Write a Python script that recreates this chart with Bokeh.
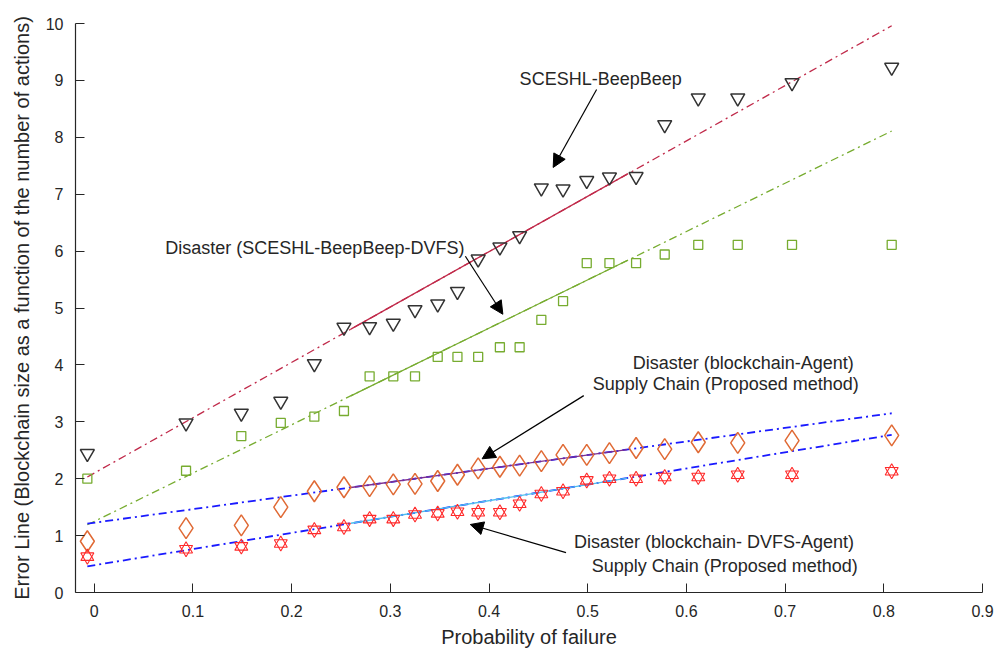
import numpy as np
from bokeh.plotting import figure
from bokeh.models import Range1d, FixedTicker, Arrow, NormalHead, Label
from bokeh.embed import file_html
from bokeh.resources import INLINE

# ---------------- data ----------------
prob_failure = [-0.007, 0.093, 0.149, 0.189, 0.223, 0.253, 0.279, 0.303, 0.325, 0.348,
                0.368, 0.389, 0.411, 0.431, 0.453, 0.475, 0.499, 0.522, 0.549, 0.578,
                0.612, 0.652, 0.707, 0.808]
sceshl_beepbeep = [2.44, 2.98, 3.15, 3.36, 4.02, 4.66, 4.67, 4.73, 4.97, 5.07,
                   5.29, 5.86, 6.07, 6.27, 7.11, 7.09, 7.24, 7.30, 7.31, 8.22,
                   8.69, 8.69, 8.96, 9.23]
sceshl_beepbeep_dvfs = [2.00, 2.14, 2.75, 2.98, 3.09, 3.19, 3.80, 3.80, 3.80, 4.14,
                        4.14, 4.14, 4.31, 4.31, 4.79, 5.12, 5.79, 5.79, 5.79, 5.94,
                        6.11, 6.11, 6.11, 6.11]
blockchain_agent = [0.90, 1.13, 1.18, 1.50, 1.78, 1.85, 1.87, 1.90, 1.91, 1.96,
                    2.07, 2.18, 2.21, 2.23, 2.31, 2.42, 2.42, 2.45, 2.54, 2.52,
                    2.64, 2.63, 2.67, 2.76]
blockchain_dvfs_agent = [0.63, 0.76, 0.81, 0.86, 1.10, 1.15, 1.29, 1.29, 1.37, 1.39,
                         1.42, 1.41, 1.41, 1.56, 1.73, 1.78, 1.97, 2.00, 2.00, 2.03,
                         2.03, 2.07, 2.07, 2.13]

# fitted trend lines (end points) and their solid middle part
fit_x = [-0.007, 0.808]
fit_sceshl = [2.03, 9.96]
fit_sceshl_dvfs = [1.19, 8.11]
fit_agent = [1.21, 3.15]
fit_dvfs_agent = [0.46, 2.77]
solid_x = [0.26, 0.54]

x_ticks = [0, 0.1, 0.2, 0.3, 0.4, 0.5, 0.6, 0.7, 0.8, 0.9]
y_ticks = [0, 1, 2, 3, 4, 5, 6, 7, 8, 9, 10]

# annotation texts / arrows (data units)
ann_texts = ["SCESHL-BeepBeep", "Disaster (SCESHL-BeepBeep-DVFS)",
             "Disaster (blockchain-Agent)", "Supply Chain (Proposed method)",
             "Disaster (blockchain- DVFS-Agent)", "Supply Chain (Proposed method)"]
ann_x = [0.431, 0.072, 0.5455, 0.505, 0.486, 0.504]
ann_y = [9.02, 6.06, 4.04, 3.66, 0.88, 0.457]
arrow_x0 = [0.509, 0.376, 0.496, 0.478]
arrow_y0 = [8.84, 5.91, 3.46, 0.70]
arrow_x1 = [0.465, 0.414, 0.393, 0.381]
arrow_y1 = [7.47, 4.89, 2.35, 1.195]

FONT = "Liberation Sans"
AX = "#262626"

p = figure(width=996, height=653, x_range=Range1d(-0.019, 0.9), y_range=Range1d(0, 10),
           output_backend="svg", toolbar_location=None,
           min_border_left=75, min_border_right=14, min_border_top=23, min_border_bottom=61,
           background_fill_color="white", border_fill_color="white")
p.outline_line_color = None
p.grid.visible = False

DD = "8 4 2 4"

def fit_line(yvals, color, solid_color, width=1.3):
    p.line(fit_x, yvals, line_color=color, line_width=width, line_dash=DD)
    ys = list(np.interp(solid_x, fit_x, yvals))
    p.line(solid_x, ys, line_color=solid_color, line_width=1.3)

fit_line(fit_sceshl, "#C02A4A", "#C02A4A")
fit_line(fit_sceshl_dvfs, "#77AC30", "#77AC30")
fit_line(fit_agent, "#1A1AFF", "#7E2F8E", width=1.8)
fit_line(fit_dvfs_agent, "#1A1AFF", "#4DBEEE", width=1.8)

p.scatter(prob_failure, sceshl_beepbeep, marker="inverted_triangle", size=14,
          fill_color=None, line_color="#333333", line_width=1.5)
p.scatter(prob_failure, sceshl_beepbeep_dvfs, marker="square", size=9,
          fill_color=None, line_color="#77AC30", line_width=1.3)
p.scatter(prob_failure, blockchain_agent, marker="diamond", size=21,
          fill_color=None, line_color="#E06A35", line_width=1.5)
for m in ("triangle", "inverted_triangle"):
    p.scatter(prob_failure, blockchain_dvfs_agent, marker=m, size=13,
              fill_color=None, line_color="#FF2A2A", line_width=1.1)

for t, x, y in zip(ann_texts, ann_x, ann_y):
    p.add_layout(Label(x=x, y=y, text=t, text_font=FONT, text_font_size="18px",
                       text_color=AX, text_baseline="middle", text_align="left"))
for x0, y0, x1, y1 in zip(arrow_x0, arrow_y0, arrow_x1, arrow_y1):
    p.add_layout(Arrow(end=NormalHead(size=13, fill_color="black", line_color="black"),
                       x_start=x0, y_start=y0, x_end=x1, y_end=y1,
                       line_color="black", line_width=1.2))

for ax in (p.xaxis[0], p.yaxis[0]):
    ax.axis_line_color = AX
    ax.axis_line_width = 1.2
    ax.major_tick_line_color = AX
    ax.major_tick_in = 9
    ax.major_tick_out = 0
    ax.minor_tick_line_color = None
    ax.major_label_text_font = FONT
    ax.major_label_text_font_size = "16px"
    ax.major_label_text_color = AX
    ax.axis_label_text_font = FONT
    ax.axis_label_text_font_size = "20px"
    ax.axis_label_text_font_style = "normal"
    ax.axis_label_text_color = AX

p.xaxis.ticker = FixedTicker(ticks=x_ticks)
p.yaxis.ticker = FixedTicker(ticks=y_ticks)
p.xaxis.major_label_overrides = {0: "0"}
p.xaxis.axis_label = "Probability of failure"
p.yaxis.axis_label = "Error Line (Blockchain size as a function of the number of actions)"
p.xaxis.major_label_standoff = 12
p.xaxis.axis_label_standoff = 6
p.yaxis.major_label_standoff = 12
p.yaxis.axis_label_standoff = 10

open("out.html", "w").write(file_html(p, INLINE))
